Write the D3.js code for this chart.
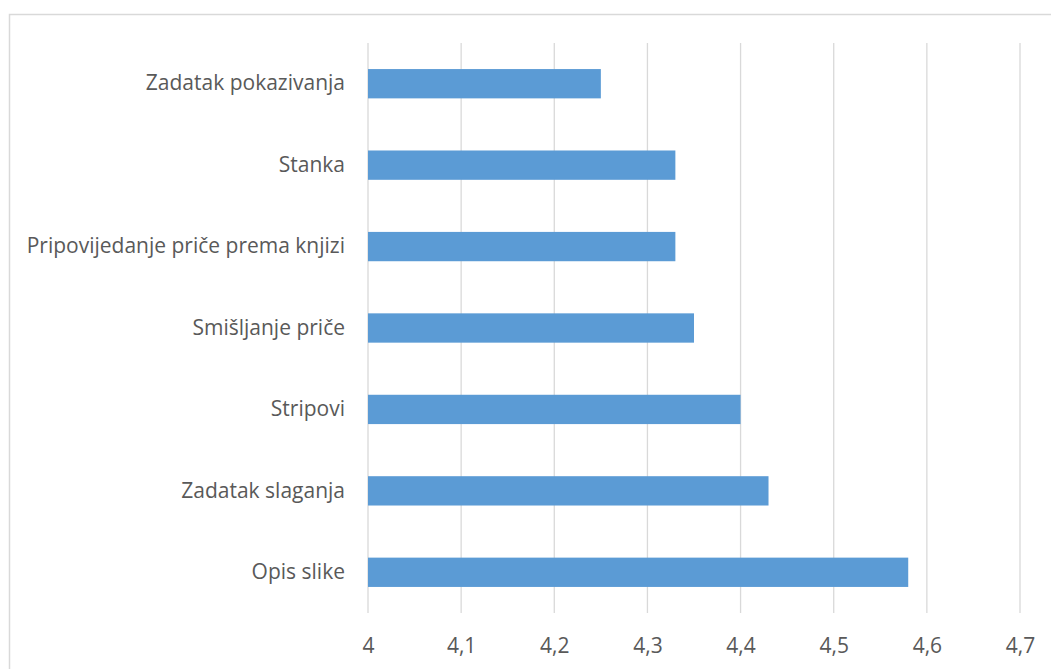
<html>
<head>
<meta charset="utf8">
<title>bar chart</title>
<style>
body { margin:0; background:white; }
</style>
<script src="https://d3js.org/d3.v7.min.js"></script>
</head>
<body>
<div id="chart"></div>
<script>
// podaci
var categories = ["Zadatak pokazivanja", "Stanka", "Pripovijedanje priče prema knjizi",
                  "Smišljanje priče", "Stripovi", "Zadatak slaganja", "Opis slike"];
var values = [4.25, 4.33, 4.33, 4.35, 4.40, 4.43, 4.58];
var ticks = [4, 4.1, 4.2, 4.3, 4.4, 4.5, 4.6, 4.7];

var width = 1051, height = 669;
var mLeft = 368, mRight = 1020, mTop = 43, mBottom = 613;
var font = "Open Sans, sans-serif";
var fsize = 21;

var svg = d3.select("#chart").append("svg")
  .attr("width", width)
  .attr("height", height);

// okvir
svg.append("rect")
  .attr("x", 9.5).attr("y", 14.5)
  .attr("width", 1100).attr("height", 1000)
  .attr("fill", "white")
  .attr("stroke", "#d9d9d9")
  .attr("stroke-width", 1.5);

var x = d3.scaleLinear().domain([4, 4.7]).range([mLeft, mRight]);
var y = d3.scaleBand().domain(categories).range([mTop, mBottom]).paddingInner(0.64).paddingOuter(0.32);

// mreža
svg.selectAll(".grid").data(ticks).enter().append("line")
  .attr("x1", d => x(d)).attr("x2", d => x(d))
  .attr("y1", mTop).attr("y2", mBottom)
  .attr("stroke", "#d9d9d9")
  .attr("stroke-width", 1.3);

// stupci
svg.selectAll(".bar").data(values).enter().append("rect")
  .attr("x", x(4))
  .attr("y", (d, i) => y(categories[i]))
  .attr("width", d => x(d) - x(4))
  .attr("height", y.bandwidth())
  .attr("fill", "#5b9bd5");

// x os
var xAxis = d3.axisBottom(x).tickValues(ticks).tickSize(0)
  .tickFormat(d => String(+d.toFixed(1)).replace(".", ","));
var gx = svg.append("g").attr("transform", "translate(0," + (mBottom + 22) + ")").call(xAxis);
gx.select(".domain").remove();
gx.selectAll("text")
  .attr("font-family", font)
  .attr("font-size", fsize)
  .attr("fill", "#595959");

// y os
var yAxis = d3.axisLeft(y).tickSize(0).tickPadding(23);
var gy = svg.append("g").attr("transform", "translate(" + mLeft + ",0)").call(yAxis);
gy.select(".domain").remove();
gy.selectAll("text")
  .attr("font-family", font)
  .attr("font-size", fsize)
  .attr("fill", "#595959");
</script>
</body>
</html>
